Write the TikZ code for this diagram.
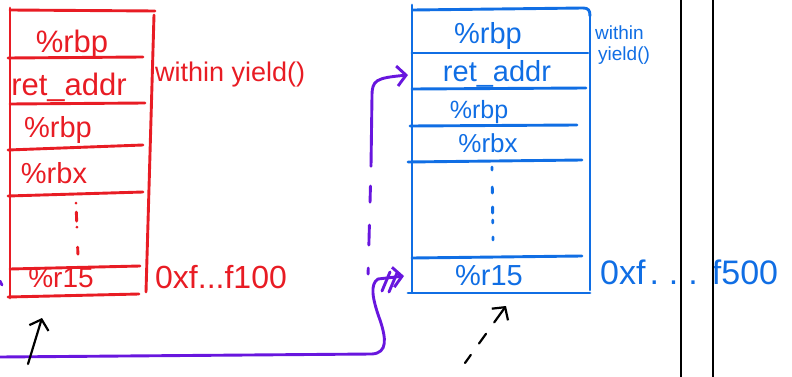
\documentclass[tikz,border=0pt]{standalone}
\usepackage{fontspec}
\setmainfont{Liberation Sans}
\usetikzlibrary{arrows.meta}
\definecolor{inkred}{RGB}{232,28,36}
\definecolor{inkblue}{RGB}{16,110,228}
\definecolor{inkpurple}{RGB}{104,22,222}
\begin{document}
\begin{tikzpicture}[x=1pt, y=-1pt, line cap=round, line join=round,
  redline/.style={draw=inkred, line width=2.9pt},
  blueline/.style={draw=inkblue, line width=2.9pt},
  purpline/.style={draw=inkpurple, line width=2.9pt},
  blackline/.style={draw=black, line width=2.2pt},
  barb/.style={-{Straight Barb[length=9pt, width=20pt]}},
  redtext/.style={text=inkred, inner sep=0pt, anchor=base, font=\fontsize{31}{31}\selectfont},
  bluetext/.style={text=inkblue, inner sep=0pt, anchor=base, font=\fontsize{29}{29}\selectfont}]
\useasboundingbox (0,0) rectangle (792,377);

% ---------- red stack ----------
\draw[redline] (10,8) -- (10,298);
\draw[redline] (10,10) -- (155,11);
\draw[redline] (8,58) -- (143,57);
\draw[redline] (10,104) -- (145,103);
\draw[redline] (8,150) -- (143,145);
\draw[redline] (8,196) -- (143,192);
\draw[redline] (10,269) -- (140,266);
\draw[redline] (8,297) -- (139,294);
\draw[redline] (154,15) -- (146,292);
\draw[redline, dash pattern=on 0.1pt off 9pt on 9pt off 6pt on 0.1pt off 20pt on 7pt off 40pt] (76,203) -- (78,256);

\node[redtext] (rRbpA) at (72,53) {\%rbp};
\node[redtext] (rRet) at (69,96) {ret\_addr};
\node[redtext, font=\fontsize{29}{29}\selectfont] (rRbpB) at (58,138) {\%rbp};
\node[redtext, font=\fontsize{29}{29}\selectfont] (rRbx) at (54,183) {\%rbx};
\node[redtext, font=\fontsize{28}{28}\selectfont] (rR15) at (61,287) {\%r15};
\node[redtext, anchor=base west, font=\fontsize{27}{27}\selectfont] (rYield) at (155,82) {within yield()};
\node[redtext, anchor=base west, font=\fontsize{32}{32}\selectfont] (rAddr) at (155,288) {0xf...f100};

% ---------- blue stack ----------
\draw[blueline] (412,5) -- (412,292);
\draw[blueline] (413,10) -- (583,8) .. controls (588,8) and (590,10) .. (590,16);
\draw[blueline] (590,16) -- (590,290);
\draw[blueline] (412,53) -- (588,53);
\draw[blueline] (412,89) -- (586,88);
\draw[blueline] (410,126) -- (577,125);
\draw[blueline] (408,162) -- (582,160);
\draw[blueline] (412,258) -- (582,256);
\draw[blueline] (408,293) -- (590,293);
\draw[blueline, dash pattern=on 3pt off 17pt on 6pt off 14pt on 6pt off 7pt on 3pt off 14pt on 3pt off 40pt] (492,167) -- (493,240);

\node[bluetext] (bRbpA) at (488,44) {\%rbp};
\node[bluetext] (bRet) at (497,82) {ret\_addr};
\node[bluetext, font=\fontsize{25}{25}\selectfont] (bRbpB) at (479,118) {\%rbp};
\node[bluetext, font=\fontsize{26}{26}\selectfont] (bRbx) at (488,152) {\%rbx};
\node[bluetext] (bR15) at (489,285) {\%r15};
\node[text=inkblue, inner sep=0pt, anchor=base west, align=left,
      font=\fontsize{19}{21}\selectfont] (bYield) at (595,61) {within\\\hspace{3pt}yield()};
\node[text=inkblue, inner sep=0pt, anchor=base west, font=\fontsize{34}{34}\selectfont] (bAddr) at (600,284)
  {0xf\hspace{4pt}.\hspace{10pt}.\hspace{10pt}.\hspace{14pt}f500};

% ---------- separators ----------
\draw[blackline] (681,0) -- (681,377);
\draw[blackline] (713,0) -- (713,377);

% ---------- purple links ----------
\coordinate (pStart) at (0,357);
\coordinate (pR15) at (404,276);
\coordinate (pRet) at (408,75);
\coordinate (pDashTop) at (371,166);
\coordinate (pDashBot) at (368,277);
\draw[purpline, barb] (pStart) -- (372,354)
  .. controls (388,353) and (386,338) .. (380,320)
  .. controls (372,298) and (370,284) .. (378,279) -- (pR15);
\draw[purpline] (382,291) -- (390,272);
\draw[purpline] (389,292) -- (397,273);
\draw[purpline, dash pattern=on 0.1pt off 20pt on 16pt off 23pt on 20pt off 23pt on 6pt off 60pt] (pDashTop) -- (pDashBot);
\draw[purpline, barb] (pDashTop) -- (372,96) .. controls (372,80) and (376,78) .. (pRet);
\draw[purpline] (0,281) -- (2,285);

% ---------- stack pointers ----------
\coordinate (kLeftTail) at (28,364);
\coordinate (kLeftHead) at (42,318);
\coordinate (kRightTail) at (465,363);
\coordinate (kRightHead) at (506,306);
\draw[blackline, barb] (kLeftTail) -- (kLeftHead);
\draw[blackline, barb, dash pattern=on 10pt off 14pt on 12pt off 14pt on 30pt] (kRightTail) -- (kRightHead);
\end{tikzpicture}
\end{document}
